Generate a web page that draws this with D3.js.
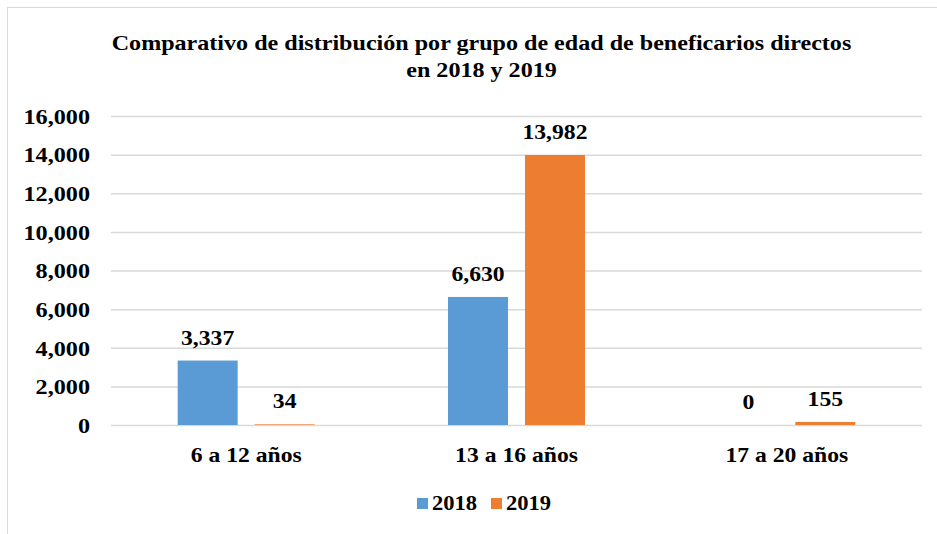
<!DOCTYPE html>
<html><head><meta charset="utf-8">
<script src="https://cdn.jsdelivr.net/npm/d3@7"></script>
<style>body{margin:0;background:#fff}svg{display:block}</style>
</head><body><svg id="c" width="937" height="534"></svg>
<script>
const categories = ["6 a 12 años", "13 a 16 años", "17 a 20 años"];
const seriesNames = ["2018", "2019"];
const values2018 = [3337, 6630, 0];
const values2019 = [34, 13982, 155];
const yTicks = [0, 2000, 4000, 6000, 8000, 10000, 12000, 14000, 16000];
const colors = ["#5B9BD5", "#ED7D31"];
const FONT = "'Liberation Serif', 'Times New Roman', serif";

const svg = d3.select("#c");
svg.append("rect").attr("x",7.5).attr("y",7.5).attr("width",940).attr("height",540).attr("fill","#fff").attr("stroke","#D9D9D9");

const x0 = d3.scaleBand().domain(categories).range([111, 922]).paddingInner(0).paddingOuter(0);
const y = d3.scaleLinear().domain([0, 16000]).range([425, 116]);
const barW = 60, gap = 17;

function txt(sel, size) {
  sel.style("font-family", FONT).style("font-weight", "bold").style("font-size", size + "px").style("fill", "#000");
  return sel;
}
function stretch(sel, k) {
  k = k || 1.1;
  sel.each(function(){
    const w = this.getComputedTextLength();
    this.setAttribute("textLength", (w * k).toFixed(2));
    this.setAttribute("lengthAdjust", "spacingAndGlyphs");
  });
}

const t1 = txt(svg.append("text").attr("x", 481.5).attr("y", 50).attr("text-anchor","middle"), 21.5)
  .text("Comparativo de distribución por grupo de edad de beneficarios directos");
const t2 = txt(svg.append("text").attr("x", 481.5).attr("y", 77).attr("text-anchor","middle"), 21.5)
  .text("en 2018 y 2019");
stretch(t1, 1.12); stretch(t2, 1.12);

svg.append("g").selectAll("line").data(yTicks).join("line")
  .attr("x1",111).attr("x2",922).attr("y1",d=>y(d)+0.5).attr("y2",d=>y(d)+0.5)
  .attr("stroke","#D9D9D9").attr("stroke-width",1.5);

const yAxis = d3.axisLeft(y).tickValues(yTicks).tickSize(0).tickPadding(21).tickFormat(d3.format(","));
const gy = svg.append("g").attr("transform","translate(111,0)").call(yAxis);
gy.select(".domain").remove();
stretch(txt(gy.selectAll("text"), 22).attr("dy","0.33em"));

const series = [values2018, values2019];
categories.forEach((c, i) => {
  const cx = x0(c) + x0.bandwidth()/2;
  series.forEach((vals, s) => {
    const bx = s === 0 ? cx - gap/2 - barW : cx + gap/2;
    const v = vals[i];
    svg.append("rect").attr("x", bx).attr("y", y(v)).attr("width", barW)
      .attr("height", Math.max(0, y(0) - y(v))).attr("fill", colors[s]);
    stretch(txt(svg.append("text").attr("x", bx + barW/2).attr("y", y(v) - 16).attr("text-anchor","middle"), 21.5)
      .text(d3.format(",")(v)));
  });
});

const gx = svg.append("g").attr("transform","translate(0,425)").call(d3.axisBottom(x0).tickSize(0).tickPadding(22));
gx.select(".domain").remove();
stretch(txt(gx.selectAll("text"), 21.5));

const legend = svg.append("g");
const lx = [417, 491];
seriesNames.forEach((n, s) => {
  legend.append("rect").attr("x", lx[s]).attr("y", 498).attr("width", 11).attr("height", 11).attr("fill", colors[s]);
  stretch(txt(legend.append("text").attr("x", lx[s] + 15).attr("y", 510), 20.5).text(n));
});
</script></body></html>
